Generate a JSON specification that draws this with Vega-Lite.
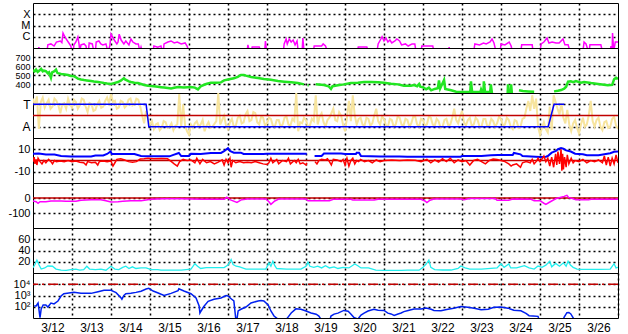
{
"$schema": "https://vega.github.io/schema/vega-lite/v6.json",
"background": "white",
"padding": {"left": 7, "top": 2, "right": 0, "bottom": 0},
"spacing": 0,
"bounds": "flush",
"config": {
  "view": {"stroke": "black", "strokeWidth": 1},
  "axis": {"grid": true, "gridColor": "black", "gridDash": [2, 3], "gridWidth": 1.5, "ticks": false, "domain": false, "title": null, "labelFont": "Liberation Sans", "labelColor": "black", "labelFontSize": 11, "labelPadding": 3, "labelOverlap": false, "labelBound": false},
  "concat": {"spacing": 0}
},
"datasets": {
"xr": [{"t":12.00,"v":5e-8},{"t":12.13,"v":5e-8},{"t":12.15,"v":1.2e-7},{"t":12.18,"v":5e-8},{"t":12.36,"v":5e-8},{"t":12.38,"v":1.9e-7},{"t":12.46,"v":2.3e-7},{"t":12.54,"v":1.5e-7},{"t":12.60,"v":3.4e-7},{"t":12.70,"v":4.2e-7},{"t":12.74,"v":3e-7},{"t":12.77,"v":2.1e-6},{"t":12.82,"v":9.5e-7},{"t":12.87,"v":5.1e-7},{"t":12.92,"v":2.8e-7},{"t":12.97,"v":1.5e-7},{"t":13.00,"v":5e-8},{"t":13.03,"v":5e-8},{"t":13.05,"v":1.9e-7},{"t":13.10,"v":3.4e-7},{"t":13.15,"v":9.5e-7},{"t":13.18,"v":2.3e-7},{"t":13.20,"v":5e-8},{"t":13.23,"v":1.9e-7},{"t":13.31,"v":2.3e-7},{"t":13.36,"v":1.5e-7},{"t":13.38,"v":5e-8},{"t":13.42,"v":5e-8},{"t":13.44,"v":2.8e-7},{"t":13.52,"v":2.3e-7},{"t":13.56,"v":5e-8},{"t":13.60,"v":5e-8},{"t":13.62,"v":3.4e-7},{"t":13.69,"v":4.2e-7},{"t":13.74,"v":2.3e-7},{"t":13.79,"v":1.9e-7},{"t":13.87,"v":2.3e-7},{"t":13.92,"v":5e-8},{"t":13.97,"v":1.5e-7},{"t":14.00,"v":1.7e-6},{"t":14.05,"v":7.8e-7},{"t":14.10,"v":4.2e-7},{"t":14.15,"v":2.3e-7},{"t":14.18,"v":3.4e-7},{"t":14.21,"v":1.7e-6},{"t":14.26,"v":5.1e-7},{"t":14.33,"v":2.3e-7},{"t":14.38,"v":4.2e-7},{"t":14.46,"v":1.9e-7},{"t":14.51,"v":6.3e-7},{"t":14.56,"v":3.4e-7},{"t":14.64,"v":2.3e-7},{"t":14.70,"v":2.3e-7},{"t":14.74,"v":5e-8},{"t":14.77,"v":1.2e-7},{"t":14.80,"v":5e-8},{"t":15.08,"v":5e-8},{"t":15.10,"v":1.5e-7},{"t":15.20,"v":1.2e-7},{"t":15.28,"v":1.5e-7},{"t":15.32,"v":5e-8},{"t":15.34,"v":5e-8},{"t":15.36,"v":2.3e-7},{"t":15.46,"v":3.4e-7},{"t":15.54,"v":4.2e-7},{"t":15.62,"v":2.8e-7},{"t":15.70,"v":3.4e-7},{"t":15.80,"v":2.3e-7},{"t":15.90,"v":2.8e-7},{"t":15.95,"v":1.5e-7},{"t":16.00,"v":5e-8},{"t":17.49,"v":5e-8},{"t":17.51,"v":1.9e-7},{"t":17.55,"v":5e-8},{"t":17.60,"v":5e-8},{"t":17.62,"v":1.2e-7},{"t":17.80,"v":1.2e-7},{"t":17.85,"v":5e-8},{"t":17.94,"v":5e-8},{"t":17.96,"v":4.2e-7},{"t":17.99,"v":5e-8},{"t":18.42,"v":5e-8},{"t":18.44,"v":2.3e-7},{"t":18.49,"v":6.3e-7},{"t":18.52,"v":2.3e-7},{"t":18.57,"v":6.3e-7},{"t":18.62,"v":3.4e-7},{"t":18.67,"v":5.1e-7},{"t":18.72,"v":1.9e-7},{"t":18.77,"v":4.2e-7},{"t":18.80,"v":5e-8},{"t":18.90,"v":5e-8},{"t":18.92,"v":7.8e-7},{"t":18.95,"v":5e-8},{"t":19.19,"v":5e-8},{"t":19.21,"v":1.5e-7},{"t":19.40,"v":1.5e-7},{"t":19.44,"v":2.3e-7},{"t":19.50,"v":1.5e-7},{"t":19.55,"v":5e-8},{"t":20.32,"v":5e-8},{"t":20.34,"v":1.2e-7},{"t":20.56,"v":1.2e-7},{"t":20.60,"v":5e-8},{"t":20.82,"v":5e-8},{"t":20.85,"v":2.3e-7},{"t":20.92,"v":6.3e-7},{"t":20.95,"v":1e-6},{"t":21.00,"v":4.2e-7},{"t":21.05,"v":7.8e-7},{"t":21.10,"v":3.4e-7},{"t":21.15,"v":5.1e-7},{"t":21.20,"v":2.8e-7},{"t":21.28,"v":4.2e-7},{"t":21.33,"v":6.3e-7},{"t":21.40,"v":4.2e-7},{"t":21.45,"v":1.9e-7},{"t":21.55,"v":2.3e-7},{"t":21.62,"v":1.5e-7},{"t":21.72,"v":2.3e-7},{"t":21.79,"v":2.3e-7},{"t":21.82,"v":5e-8},{"t":21.95,"v":5e-8},{"t":21.97,"v":1.5e-7},{"t":22.25,"v":1.5e-7},{"t":22.28,"v":5e-8},{"t":22.65,"v":5e-8},{"t":22.67,"v":1.2e-7},{"t":22.69,"v":5e-8},{"t":23.30,"v":5e-8},{"t":23.33,"v":2.3e-7},{"t":23.45,"v":1.9e-7},{"t":23.55,"v":2.8e-7},{"t":23.62,"v":2.3e-7},{"t":23.72,"v":3.4e-7},{"t":23.77,"v":6.3e-7},{"t":23.82,"v":2.8e-7},{"t":23.87,"v":5e-8},{"t":23.98,"v":5e-8},{"t":24.00,"v":2.3e-7},{"t":24.10,"v":1.9e-7},{"t":24.21,"v":3.4e-7},{"t":24.26,"v":1.5e-7},{"t":24.29,"v":5e-8},{"t":24.51,"v":5e-8},{"t":24.53,"v":1.9e-7},{"t":24.80,"v":1.9e-7},{"t":24.82,"v":5e-8},{"t":25.00,"v":5e-8},{"t":25.03,"v":2.3e-7},{"t":25.10,"v":3.4e-7},{"t":25.18,"v":7.8e-7},{"t":25.23,"v":2.8e-7},{"t":25.31,"v":3.4e-7},{"t":25.41,"v":2.8e-7},{"t":25.49,"v":2.8e-7},{"t":25.59,"v":6.3e-7},{"t":25.64,"v":1.9e-7},{"t":25.72,"v":1.9e-7},{"t":25.77,"v":5e-8},{"t":26.10,"v":5e-8},{"t":26.13,"v":3.4e-7},{"t":26.18,"v":2.3e-7},{"t":26.24,"v":5e-8},{"t":26.26,"v":5e-8},{"t":26.28,"v":1.9e-7},{"t":26.56,"v":1.9e-7},{"t":26.60,"v":5e-8},{"t":26.80,"v":5e-8},{"t":26.82,"v":1.5e-7},{"t":26.85,"v":5e-8},{"t":26.86,"v":2.1e-6},{"t":26.89,"v":5e-8},{"t":26.93,"v":3.4e-7},{"t":27.00,"v":3.4e-7}],
"sw": [{"t":12.00,"v":555},{"t":12.04,"v":540},{"t":12.08,"v":560},{"t":12.12,"v":535},{"t":12.15,"v":545},{"t":12.21,"v":567},{"t":12.25,"v":540},{"t":12.28,"v":548},{"t":12.33,"v":544},{"t":12.38,"v":520},{"t":12.41,"v":530},{"t":12.46,"v":470},{"t":12.49,"v":530},{"t":12.54,"v":540},{"t":12.59,"v":560},{"t":12.62,"v":525},{"t":12.64,"v":520},{"t":12.72,"v":511},{"t":12.82,"v":505},{"t":12.90,"v":500},{"t":12.97,"v":490},{"t":13.03,"v":489},{"t":13.10,"v":475},{"t":13.15,"v":460},{"t":13.23,"v":450},{"t":13.31,"v":444},{"t":13.38,"v":440},{"t":13.49,"v":433},{"t":13.56,"v":428},{"t":13.67,"v":422},{"t":13.74,"v":418},{"t":13.82,"v":411},{"t":13.90,"v":405},{"t":14.00,"v":400},{"t":14.08,"v":410},{"t":14.18,"v":422},{"t":14.26,"v":440},{"t":14.33,"v":465},{"t":14.36,"v":450},{"t":14.46,"v":430},{"t":14.51,"v":422},{"t":14.60,"v":415},{"t":14.69,"v":411},{"t":14.77,"v":400},{"t":14.85,"v":389},{"t":14.95,"v":380},{"t":15.03,"v":378},{"t":15.15,"v":372},{"t":15.28,"v":365},{"t":15.36,"v":361},{"t":15.46,"v":355},{"t":15.54,"v":350},{"t":15.62,"v":358},{"t":15.72,"v":367},{"t":15.87,"v":361},{"t":16.05,"v":367},{"t":16.15,"v":360},{"t":16.23,"v":340},{"t":16.31,"v":378},{"t":16.44,"v":400},{"t":16.56,"v":415},{"t":16.69,"v":415},{"t":16.82,"v":418},{"t":16.90,"v":440},{"t":17.00,"v":450},{"t":17.15,"v":463},{"t":17.25,"v":480},{"t":17.33,"v":500},{"t":17.41,"v":500},{"t":17.46,"v":493},{"t":17.59,"v":478},{"t":17.77,"v":467},{"t":17.92,"v":456},{"t":18.10,"v":448},{"t":18.28,"v":433},{"t":18.44,"v":426},{"t":18.62,"v":419},{"t":18.79,"v":411},{"t":18.95,"v":396},{"t":18.98,"v":null},{"t":19.04,"v":385},{"t":19.07,"v":385},{"t":19.09,"v":null},{"t":19.25,"v":396},{"t":19.46,"v":389},{"t":19.58,"v":375},{"t":19.64,"v":345},{"t":19.68,"v":375},{"t":19.82,"v":385},{"t":19.97,"v":396},{"t":20.15,"v":411},{"t":20.33,"v":415},{"t":20.49,"v":422},{"t":20.67,"v":422},{"t":20.85,"v":419},{"t":21.00,"v":415},{"t":21.18,"v":404},{"t":21.36,"v":396},{"t":21.51,"v":380},{"t":21.69,"v":381},{"t":21.77,"v":389},{"t":21.85,"v":376},{"t":21.90,"v":400},{"t":21.93,"v":370},{"t":22.00,"v":365},{"t":22.08,"v":341},{"t":22.15,"v":360},{"t":22.21,"v":330},{"t":22.30,"v":345},{"t":22.38,"v":352},{"t":22.41,"v":440},{"t":22.44,"v":350},{"t":22.54,"v":444},{"t":22.57,"v":345},{"t":22.72,"v":330},{"t":22.85,"v":315},{"t":22.97,"v":311},{"t":23.21,"v":311},{"t":23.23,"v":430},{"t":23.26,"v":311},{"t":23.47,"v":311},{"t":23.49,"v":340},{"t":23.52,"v":311},{"t":23.55,"v":311},{"t":23.56,"v":430},{"t":23.59,"v":311},{"t":23.72,"v":311},{"t":23.74,"v":396},{"t":23.77,"v":290},{"t":23.79,"v":null},{"t":24.17,"v":290},{"t":24.18,"v":396},{"t":24.20,"v":290},{"t":24.25,"v":290},{"t":24.26,"v":396},{"t":24.28,"v":290},{"t":24.29,"v":null},{"t":24.46,"v":330},{"t":24.56,"v":322},{"t":24.70,"v":318},{"t":24.85,"v":315},{"t":24.87,"v":null},{"t":25.36,"v":318},{"t":25.46,"v":325},{"t":25.54,"v":333},{"t":25.62,"v":348},{"t":25.67,"v":370},{"t":25.72,"v":426},{"t":25.79,"v":430},{"t":25.85,"v":420},{"t":25.92,"v":433},{"t":26.05,"v":415},{"t":26.13,"v":422},{"t":26.31,"v":410},{"t":26.49,"v":400},{"t":26.64,"v":392},{"t":26.74,"v":385},{"t":26.85,"v":390},{"t":26.90,"v":452},{"t":26.95,"v":470},{"t":27.00,"v":455}],
"phi": [{"t":12.0,"v":3.5},{"t":12.05,"v":2.9},{"t":12.1,"v":3.7},{"t":12.15,"v":0.8},{"t":12.2,"v":3.2},{"t":12.25,"v":3.6},{"t":12.3,"v":2.7},{"t":12.35,"v":3.1},{"t":12.4,"v":3.4},{"t":12.45,"v":2.6},{"t":12.5,"v":2.8},{"t":12.55,"v":3.5},{"t":12.6,"v":3.3},{"t":12.65,"v":2.9},{"t":12.7,"v":2.2},{"t":12.75,"v":3.0},{"t":12.8,"v":3.1},{"t":12.85,"v":2.6},{"t":12.9,"v":3.5},{"t":12.95,"v":3.0},{"t":13.0,"v":2.7},{"t":13.05,"v":3.4},{"t":13.1,"v":3.2},{"t":13.15,"v":2.6},{"t":13.2,"v":2.9},{"t":13.25,"v":3.5},{"t":13.3,"v":3.4},{"t":13.35,"v":2.8},{"t":13.4,"v":2.3},{"t":13.45,"v":3.1},{"t":13.5,"v":3.0},{"t":13.55,"v":2.4},{"t":13.6,"v":2.5},{"t":13.65,"v":3.0},{"t":13.7,"v":3.3},{"t":13.75,"v":2.7},{"t":13.8,"v":2.8},{"t":13.85,"v":3.3},{"t":13.9,"v":3.6},{"t":13.95,"v":3.1},{"t":14.0,"v":3.9},{"t":14.05,"v":3.2},{"t":14.1,"v":3.3},{"t":14.15,"v":2.6},{"t":14.2,"v":2.7},{"t":14.25,"v":3.3},{"t":14.3,"v":3.2},{"t":14.35,"v":2.7},{"t":14.4,"v":2.9},{"t":14.45,"v":3.4},{"t":14.5,"v":3.5},{"t":14.55,"v":2.9},{"t":14.6,"v":3.0},{"t":14.65,"v":3.5},{"t":14.7,"v":3.4},{"t":14.75,"v":2.8},{"t":14.8,"v":2.0},{"t":14.85,"v":1.3},{"t":14.9,"v":2.4},{"t":14.95,"v":1.6},{"t":15.0,"v":1.2},{"t":15.05,"v":1.5},{"t":15.1,"v":0.8},{"t":15.15,"v":1.2},{"t":15.2,"v":1.3},{"t":15.25,"v":0.7},{"t":15.3,"v":0.9},{"t":15.35,"v":1.5},{"t":15.4,"v":1.4},{"t":15.45,"v":0.9},{"t":15.5,"v":1.0},{"t":15.55,"v":1.3},{"t":15.6,"v":0.7},{"t":15.65,"v":1.1},{"t":15.7,"v":1.2},{"t":15.75,"v":3.9},{"t":15.8,"v":1.0},{"t":15.85,"v":3.0},{"t":15.9,"v":1.1},{"t":15.95,"v":0.6},{"t":16.0,"v":0.3},{"t":16.05,"v":1.2},{"t":16.1,"v":0.9},{"t":16.15,"v":1.3},{"t":16.2,"v":1.5},{"t":16.25,"v":1.0},{"t":16.3,"v":1.2},{"t":16.35,"v":1.6},{"t":16.4,"v":0.6},{"t":16.45,"v":1.1},{"t":16.5,"v":1.4},{"t":16.55,"v":0.9},{"t":16.6,"v":1.0},{"t":16.7,"v":1.5},{"t":16.75,"v":4.0},{"t":16.8,"v":1.2},{"t":16.85,"v":1.6},{"t":16.9,"v":2.0},{"t":16.95,"v":1.1},{"t":17.0,"v":0.8},{"t":17.05,"v":1.4},{"t":17.1,"v":1.7},{"t":17.15,"v":1.0},{"t":17.2,"v":1.1},{"t":17.25,"v":1.8},{"t":17.3,"v":2.0},{"t":17.35,"v":1.3},{"t":17.4,"v":1.4},{"t":17.45,"v":2.1},{"t":17.5,"v":2.4},{"t":17.55,"v":1.5},{"t":17.6,"v":1.6},{"t":17.65,"v":2.3},{"t":17.7,"v":2.2},{"t":17.75,"v":1.4},{"t":17.8,"v":1.2},{"t":17.85,"v":1.9},{"t":17.9,"v":1.8},{"t":17.95,"v":1.1},{"t":18.0,"v":1.3},{"t":18.05,"v":1.8},{"t":18.1,"v":1.7},{"t":18.15,"v":1.1},{"t":18.2,"v":1.0},{"t":18.25,"v":1.6},{"t":18.3,"v":1.6},{"t":18.35,"v":1.0},{"t":18.4,"v":1.2},{"t":18.45,"v":1.8},{"t":18.5,"v":1.9},{"t":18.55,"v":1.2},{"t":18.6,"v":1.1},{"t":18.65,"v":1.7},{"t":18.7,"v":1.5},{"t":18.75,"v":4.0},{"t":18.8,"v":0.6},{"t":18.85,"v":1.4},{"t":18.9,"v":1.3},{"t":18.95,"v":1.8},{"t":19.0,"v":1.6},{"t":19.05,"v":1.0},{"t":19.1,"v":1.1},{"t":19.15,"v":1.7},{"t":19.2,"v":1.5},{"t":19.25,"v":3.8},{"t":19.3,"v":1.2},{"t":19.35,"v":1.9},{"t":19.4,"v":2.2},{"t":19.45,"v":1.4},{"t":19.5,"v":1.0},{"t":19.55,"v":1.6},{"t":19.6,"v":1.8},{"t":19.65,"v":2.2},{"t":19.7,"v":2.6},{"t":19.75,"v":1.6},{"t":19.8,"v":1.5},{"t":19.85,"v":2.3},{"t":19.9,"v":2.0},{"t":19.95,"v":1.2},{"t":20.0,"v":0.6},{"t":20.05,"v":1.8},{"t":20.1,"v":3.3},{"t":20.15,"v":1.5},{"t":20.2,"v":3.8},{"t":20.25,"v":2.0},{"t":20.3,"v":1.2},{"t":20.35,"v":1.7},{"t":20.4,"v":1.8},{"t":20.45,"v":1.2},{"t":20.5,"v":1.1},{"t":20.55,"v":1.8},{"t":20.6,"v":1.7},{"t":20.65,"v":1.1},{"t":20.7,"v":1.3},{"t":20.75,"v":2.0},{"t":20.8,"v":2.6},{"t":20.85,"v":1.5},{"t":20.9,"v":1.2},{"t":20.95,"v":1.9},{"t":21.0,"v":1.7},{"t":21.05,"v":1.1},{"t":21.1,"v":1.0},{"t":21.15,"v":1.7},{"t":21.2,"v":1.6},{"t":21.25,"v":1.0},{"t":21.3,"v":1.2},{"t":21.35,"v":1.9},{"t":21.4,"v":1.8},{"t":21.45,"v":1.2},{"t":21.5,"v":1.1},{"t":21.55,"v":1.7},{"t":21.6,"v":1.6},{"t":21.65,"v":1.0},{"t":21.7,"v":1.3},{"t":21.75,"v":1.9},{"t":21.8,"v":1.9},{"t":21.85,"v":1.2},{"t":21.9,"v":1.0},{"t":21.95,"v":1.7},{"t":22.0,"v":1.6},{"t":22.05,"v":1.1},{"t":22.1,"v":1.2},{"t":22.15,"v":1.9},{"t":22.2,"v":1.8},{"t":22.25,"v":1.2},{"t":22.3,"v":1.1},{"t":22.35,"v":1.7},{"t":22.4,"v":1.5},{"t":22.45,"v":0.9},{"t":22.5,"v":1.0},{"t":22.55,"v":1.6},{"t":22.6,"v":1.7},{"t":22.65,"v":1.1},{"t":22.7,"v":1.2},{"t":22.75,"v":1.8},{"t":22.8,"v":2.6},{"t":22.85,"v":1.6},{"t":22.9,"v":1.3},{"t":22.95,"v":1.9},{"t":23.0,"v":2.4},{"t":23.05,"v":1.4},{"t":23.1,"v":1.1},{"t":23.15,"v":1.6},{"t":23.2,"v":1.8},{"t":23.25,"v":1.1},{"t":23.3,"v":1.2},{"t":23.35,"v":1.8},{"t":23.4,"v":1.6},{"t":23.45,"v":1.0},{"t":23.5,"v":1.0},{"t":23.55,"v":1.7},{"t":23.6,"v":1.7},{"t":23.65,"v":1.0},{"t":23.7,"v":1.1},{"t":23.75,"v":1.7},{"t":23.8,"v":1.5},{"t":23.85,"v":1.0},{"t":23.9,"v":1.3},{"t":23.95,"v":1.9},{"t":24.0,"v":1.7},{"t":24.05,"v":1.1},{"t":24.1,"v":1.2},{"t":24.15,"v":1.8},{"t":24.2,"v":1.6},{"t":24.25,"v":1.0},{"t":24.3,"v":0.8},{"t":24.35,"v":1.6},{"t":24.4,"v":1.5},{"t":24.45,"v":0.9},{"t":24.5,"v":1.0},{"t":24.55,"v":1.7},{"t":24.6,"v":1.8},{"t":24.65,"v":2.6},{"t":24.7,"v":3.3},{"t":24.75,"v":2.4},{"t":24.8,"v":3.8},{"t":24.85,"v":2.6},{"t":24.9,"v":3.5},{"t":24.95,"v":1.0},{"t":25.0,"v":0.3},{"t":25.05,"v":0.9},{"t":25.1,"v":1.4},{"t":25.15,"v":0.8},{"t":25.2,"v":0.5},{"t":25.25,"v":2.8},{"t":25.3,"v":0.7},{"t":25.35,"v":3.8},{"t":25.4,"v":3.2},{"t":25.45,"v":2.6},{"t":25.5,"v":2.1},{"t":25.55,"v":3.1},{"t":25.6,"v":1.8},{"t":25.65,"v":1.3},{"t":25.7,"v":2.5},{"t":25.75,"v":1.2},{"t":25.8,"v":0.6},{"t":25.85,"v":1.3},{"t":25.9,"v":1.6},{"t":25.95,"v":0.9},{"t":26.0,"v":0.4},{"t":26.05,"v":1.2},{"t":26.1,"v":1.8},{"t":26.15,"v":1.0},{"t":26.2,"v":1.2},{"t":26.25,"v":2.0},{"t":26.3,"v":3.3},{"t":26.35,"v":1.5},{"t":26.4,"v":1.0},{"t":26.45,"v":1.6},{"t":26.5,"v":1.8},{"t":26.55,"v":1.0},{"t":26.6,"v":0.7},{"t":26.65,"v":1.4},{"t":26.7,"v":1.5},{"t":26.75,"v":0.9},{"t":26.8,"v":1.0},{"t":26.85,"v":1.7},{"t":26.9,"v":1.9},{"t":26.95,"v":1.1},{"t":27.0,"v":0.8}],
"sec": [{"t":12.0,"v":3},{"t":14.90,"v":3},{"t":14.97,"v":1},{"t":25.21,"v":1},{"t":25.36,"v":3},{"t":25.62,"v":3}],
"bt": [{"t":12.00,"v":6},{"t":12.15,"v":6.2},{"t":12.33,"v":5.3},{"t":12.55,"v":5.3},{"t":12.72,"v":4},{"t":12.97,"v":3.6},{"t":13.2,"v":3.6},{"t":13.49,"v":3.6},{"t":13.6,"v":4.4},{"t":13.8,"v":4.4},{"t":13.9,"v":5.8},{"t":13.99,"v":8},{"t":14.02,"v":5.8},{"t":14.3,"v":5.8},{"t":14.6,"v":5.8},{"t":14.77,"v":4},{"t":14.9,"v":3.7},{"t":15.2,"v":3.7},{"t":15.5,"v":3.7},{"t":15.6,"v":5},{"t":15.74,"v":6.7},{"t":15.8,"v":4},{"t":16.0,"v":4},{"t":16.05,"v":6},{"t":16.3,"v":5.8},{"t":16.56,"v":6.7},{"t":16.82,"v":6.7},{"t":16.9,"v":8.4},{"t":17.0,"v":11},{"t":17.05,"v":8.4},{"t":17.15,"v":7},{"t":17.33,"v":7},{"t":17.4,"v":5.8},{"t":17.9,"v":5.8},{"t":18.0,"v":6},{"t":18.5,"v":6},{"t":19.02,"v":6},{"t":19.04,"v":null},{"t":19.22,"v":4},{"t":19.4,"v":4},{"t":19.46,"v":6.2},{"t":19.9,"v":6.2},{"t":20.0,"v":5.8},{"t":20.28,"v":5.8},{"t":20.3,"v":7},{"t":20.36,"v":7},{"t":20.41,"v":4},{"t":20.9,"v":3.6},{"t":21.4,"v":3.6},{"t":21.6,"v":3.4},{"t":22.0,"v":3.4},{"t":22.5,"v":3.4},{"t":22.97,"v":3.4},{"t":23.0,"v":4},{"t":23.5,"v":4},{"t":23.74,"v":4.6},{"t":23.92,"v":4.9},{"t":24.3,"v":4.9},{"t":24.33,"v":6.7},{"t":24.5,"v":5.5},{"t":24.55,"v":4},{"t":24.77,"v":3.5},{"t":25.0,"v":3.1},{"t":25.15,"v":3.4},{"t":25.2,"v":4},{"t":25.3,"v":7},{"t":25.41,"v":8.5},{"t":25.46,"v":10},{"t":25.54,"v":11},{"t":25.6,"v":10.5},{"t":25.67,"v":9},{"t":25.79,"v":8},{"t":25.9,"v":6},{"t":26.1,"v":5.5},{"t":26.2,"v":4.6},{"t":26.5,"v":4.6},{"t":26.65,"v":5.5},{"t":26.8,"v":6.5},{"t":26.9,"v":7.8},{"t":27.0,"v":8}],
"bz": [{"t":12.00,"v":-1},{"t":12.03,"v":3},{"t":12.05,"v":-3},{"t":12.08,"v":1},{"t":12.1,"v":-4},{"t":12.13,"v":2},{"t":12.18,"v":-1},{"t":12.23,"v":-3},{"t":12.28,"v":0},{"t":12.33,"v":-2},{"t":12.4,"v":1},{"t":12.46,"v":-1},{"t":12.5,"v":-3},{"t":12.55,"v":0},{"t":12.6,"v":-1},{"t":12.7,"v":-0.5},{"t":12.8,"v":-1},{"t":12.9,"v":0},{"t":13.0,"v":-1},{"t":13.1,"v":-0.5},{"t":13.2,"v":-1.5},{"t":13.3,"v":-2},{"t":13.36,"v":-4},{"t":13.4,"v":-1},{"t":13.5,"v":-2},{"t":13.6,"v":-1.5},{"t":13.66,"v":-4},{"t":13.7,"v":-1},{"t":13.8,"v":-0.5},{"t":13.9,"v":-1},{"t":14.0,"v":-0.5},{"t":14.05,"v":-5},{"t":14.1,"v":-2},{"t":14.15,"v":1},{"t":14.25,"v":1.5},{"t":14.35,"v":0.5},{"t":14.45,"v":-1},{"t":14.55,"v":-1.5},{"t":14.65,"v":-1},{"t":14.75,"v":1.3},{"t":14.85,"v":1.5},{"t":14.95,"v":2},{"t":15.1,"v":1.6},{"t":15.3,"v":1.8},{"t":15.45,"v":1.5},{"t":15.55,"v":-1},{"t":15.62,"v":-3},{"t":15.7,"v":-5},{"t":15.76,"v":-1},{"t":15.85,"v":1},{"t":15.95,"v":0},{"t":16.05,"v":0.5},{"t":16.15,"v":-2},{"t":16.2,"v":2},{"t":16.28,"v":-3},{"t":16.35,"v":1},{"t":16.45,"v":-2},{"t":16.55,"v":-1},{"t":16.65,"v":-3},{"t":16.75,"v":-1.5},{"t":16.85,"v":0.5},{"t":16.9,"v":-4},{"t":16.95,"v":1},{"t":17.0,"v":-2},{"t":17.05,"v":2},{"t":17.08,"v":-6},{"t":17.12,"v":0},{"t":17.2,"v":-2},{"t":17.3,"v":-1},{"t":17.4,"v":-2},{"t":17.5,"v":-1.5},{"t":17.6,"v":-2},{"t":17.7,"v":-1},{"t":17.8,"v":-2},{"t":17.9,"v":-3},{"t":18.0,"v":-3.5},{"t":18.05,"v":-2},{"t":18.1,"v":2},{"t":18.15,"v":-2},{"t":18.25,"v":1},{"t":18.3,"v":-3},{"t":18.4,"v":0},{"t":18.5,"v":-1},{"t":18.55,"v":2},{"t":18.6,"v":-3},{"t":18.7,"v":0},{"t":18.75,"v":-2},{"t":18.8,"v":1},{"t":18.85,"v":-3},{"t":18.92,"v":-2},{"t":19.0,"v":-4},{"t":19.02,"v":-2},{"t":19.03,"v":null},{"t":19.05,"v":1},{"t":19.06,"v":null},{"t":19.23,"v":-1},{"t":19.28,"v":-3},{"t":19.33,"v":0},{"t":19.4,"v":1},{"t":19.5,"v":0.5},{"t":19.55,"v":1.5},{"t":19.6,"v":-1},{"t":19.65,"v":-4},{"t":19.7,"v":1},{"t":19.8,"v":0.5},{"t":19.9,"v":-1},{"t":19.95,"v":1},{"t":20.0,"v":-4},{"t":20.05,"v":2},{"t":20.1,"v":-5},{"t":20.15,"v":0},{"t":20.2,"v":2},{"t":20.25,"v":-3},{"t":20.3,"v":0},{"t":20.35,"v":-1},{"t":20.4,"v":1},{"t":20.5,"v":-1},{"t":20.6,"v":0},{"t":20.7,"v":-2},{"t":20.8,"v":0.5},{"t":20.9,"v":-1},{"t":21.0,"v":0},{"t":21.2,"v":0.5},{"t":21.4,"v":0},{"t":21.6,"v":0.4},{"t":21.8,"v":0.3},{"t":21.95,"v":-1},{"t":22.1,"v":1},{"t":22.2,"v":-2},{"t":22.3,"v":0.5},{"t":22.4,"v":-1.5},{"t":22.5,"v":1.5},{"t":22.6,"v":-1},{"t":22.7,"v":2},{"t":22.8,"v":-2},{"t":22.9,"v":0.5},{"t":23.0,"v":-1},{"t":23.1,"v":0},{"t":23.2,"v":-4},{"t":23.3,"v":0},{"t":23.4,"v":1},{"t":23.5,"v":-1},{"t":23.6,"v":-3},{"t":23.7,"v":0},{"t":23.8,"v":1.3},{"t":23.9,"v":1},{"t":24.0,"v":0},{"t":24.1,"v":-1},{"t":24.2,"v":-3},{"t":24.26,"v":-5},{"t":24.3,"v":-4},{"t":24.4,"v":-3},{"t":24.5,"v":-6},{"t":24.55,"v":-2},{"t":24.65,"v":-1},{"t":24.75,"v":-2},{"t":24.8,"v":1},{"t":24.85,"v":-3},{"t":24.9,"v":-1},{"t":24.95,"v":2},{"t":25.0,"v":-1},{"t":25.05,"v":1.3},{"t":25.1,"v":4},{"t":25.15,"v":-1},{"t":25.2,"v":2},{"t":25.25,"v":-5},{"t":25.3,"v":3},{"t":25.35,"v":-6},{"t":25.4,"v":6},{"t":25.43,"v":-4},{"t":25.46,"v":8},{"t":25.5,"v":-3},{"t":25.54,"v":10},{"t":25.56,"v":-9},{"t":25.58,"v":6},{"t":25.6,"v":-8},{"t":25.63,"v":3},{"t":25.67,"v":-6},{"t":25.7,"v":5},{"t":25.74,"v":-3},{"t":25.8,"v":2},{"t":25.85,"v":-2},{"t":25.9,"v":0},{"t":26.0,"v":-1},{"t":26.1,"v":1},{"t":26.2,"v":-2},{"t":26.3,"v":0},{"t":26.4,"v":-1},{"t":26.5,"v":0.5},{"t":26.6,"v":-2},{"t":26.65,"v":4},{"t":26.7,"v":-4},{"t":26.75,"v":3},{"t":26.8,"v":-5},{"t":26.85,"v":2},{"t":26.9,"v":-3},{"t":26.95,"v":5},{"t":27.0,"v":-2}],
"dst": [{"t":12.00,"v":-20},{"t":12.08,"v":-25},{"t":12.13,"v":-35},{"t":12.18,"v":-25},{"t":12.33,"v":-25},{"t":12.46,"v":-20},{"t":12.72,"v":-20},{"t":12.85,"v":-22},{"t":13.10,"v":-22},{"t":13.23,"v":-15},{"t":13.49,"v":-11},{"t":13.74,"v":-11},{"t":13.87,"v":-18},{"t":14.00,"v":-27},{"t":14.18,"v":-25},{"t":14.3,"v":-22},{"t":14.51,"v":-18},{"t":14.77,"v":-18},{"t":15.03,"v":-9},{"t":15.36,"v":-5},{"t":15.8,"v":-5},{"t":16.05,"v":-7},{"t":16.31,"v":-9},{"t":16.9,"v":-9},{"t":16.97,"v":5},{"t":17.05,"v":-11},{"t":17.23,"v":-29},{"t":17.35,"v":-11},{"t":17.5,"v":-7},{"t":17.97,"v":-7},{"t":18.05,"v":-25},{"t":18.10,"v":-42},{"t":18.2,"v":-20},{"t":18.3,"v":-7},{"t":19.0,"v":-7},{"t":19.05,"v":-18},{"t":19.6,"v":-18},{"t":19.7,"v":-9},{"t":20.15,"v":-9},{"t":20.2,"v":-13},{"t":20.75,"v":-13},{"t":20.85,"v":-9},{"t":21.95,"v":-9},{"t":22.05,"v":-20},{"t":22.10,"v":-31},{"t":22.18,"v":-15},{"t":22.28,"v":-7},{"t":22.97,"v":-7},{"t":23.05,"v":-11},{"t":23.2,"v":-4},{"t":23.85,"v":-4},{"t":23.9,"v":-15},{"t":24.2,"v":-15},{"t":24.3,"v":-7},{"t":24.77,"v":-9},{"t":24.85,"v":-18},{"t":25.0,"v":-18},{"t":25.1,"v":-35},{"t":25.15,"v":-42},{"t":25.23,"v":-30},{"t":25.4,"v":-5},{"t":25.54,"v":5},{"t":25.62,"v":11},{"t":25.69,"v":18},{"t":25.74,"v":2},{"t":25.85,"v":-5},{"t":25.92,"v":-11},{"t":26.25,"v":-11},{"t":26.31,"v":-9},{"t":27.0,"v":-9}],
"np": [{"t":12.00,"v":9.5},{"t":12.05,"v":15},{"t":12.1,"v":23},{"t":12.15,"v":15},{"t":12.21,"v":7},{"t":12.3,"v":9},{"t":12.38,"v":12.4},{"t":12.5,"v":12},{"t":12.59,"v":7},{"t":12.72,"v":5},{"t":12.85,"v":4.8},{"t":12.97,"v":6},{"t":13.1,"v":7},{"t":13.2,"v":5},{"t":13.3,"v":6},{"t":13.38,"v":12},{"t":13.45,"v":7},{"t":13.6,"v":6},{"t":13.74,"v":7},{"t":13.87,"v":5},{"t":14.0,"v":12},{"t":14.1,"v":7},{"t":14.2,"v":6},{"t":14.3,"v":10},{"t":14.38,"v":12},{"t":14.46,"v":8},{"t":14.55,"v":11},{"t":14.64,"v":8},{"t":14.77,"v":9},{"t":14.9,"v":9},{"t":15.03,"v":6},{"t":15.2,"v":6},{"t":15.28,"v":5},{"t":15.5,"v":5},{"t":15.8,"v":5},{"t":16.05,"v":7},{"t":16.15,"v":16.5},{"t":16.22,"v":12},{"t":16.3,"v":8},{"t":16.44,"v":9.5},{"t":16.7,"v":9.5},{"t":16.9,"v":9.5},{"t":17.0,"v":14},{"t":17.08,"v":24},{"t":17.13,"v":15},{"t":17.21,"v":12},{"t":17.3,"v":11},{"t":17.46,"v":7},{"t":17.8,"v":7},{"t":17.97,"v":7},{"t":18.05,"v":18},{"t":18.1,"v":12},{"t":18.15,"v":21},{"t":18.2,"v":13},{"t":18.25,"v":8},{"t":18.5,"v":7},{"t":18.87,"v":7},{"t":19.0,"v":12},{"t":19.05,"v":19.6},{"t":19.1,"v":12},{"t":19.2,"v":10},{"t":19.3,"v":12},{"t":19.4,"v":9},{"t":19.5,"v":13},{"t":19.6,"v":9},{"t":19.72,"v":11},{"t":19.82,"v":8},{"t":19.95,"v":10},{"t":20.1,"v":9},{"t":20.25,"v":16},{"t":20.33,"v":13},{"t":20.41,"v":9},{"t":20.6,"v":9},{"t":20.79,"v":5},{"t":21.0,"v":4.8},{"t":21.44,"v":4.8},{"t":21.6,"v":5},{"t":21.9,"v":5},{"t":22.0,"v":10},{"t":22.08,"v":16},{"t":22.15,"v":23},{"t":22.2,"v":10},{"t":22.3,"v":6},{"t":22.5,"v":5.3},{"t":22.72,"v":5.3},{"t":22.9,"v":8},{"t":22.97,"v":12.4},{"t":23.08,"v":9},{"t":23.2,"v":7},{"t":23.5,"v":7},{"t":23.9,"v":9},{"t":24.0,"v":16.5},{"t":24.08,"v":10},{"t":24.2,"v":16},{"t":24.25,"v":9},{"t":24.4,"v":9},{"t":24.6,"v":13},{"t":24.72,"v":9},{"t":24.85,"v":7},{"t":24.95,"v":12.4},{"t":25.05,"v":10},{"t":25.15,"v":14},{"t":25.25,"v":21},{"t":25.3,"v":11},{"t":25.4,"v":17},{"t":25.5,"v":12},{"t":25.6,"v":18},{"t":25.67,"v":12},{"t":25.72,"v":21},{"t":25.78,"v":14},{"t":25.85,"v":10},{"t":25.95,"v":7},{"t":26.05,"v":6.5},{"t":26.5,"v":6.5},{"t":26.8,"v":7},{"t":26.9,"v":16.5},{"t":26.95,"v":9},{"t":27.0,"v":10}],
"el": [{"t":12.03,"v":117},{"t":12.08,"v":117},{"t":12.13,"v":215},{"t":12.18,"v":11},{"t":12.21,"v":63},{"t":12.26,"v":143},{"t":12.33,"v":143},{"t":12.38,"v":95},{"t":12.46,"v":215},{"t":12.54,"v":180},{"t":12.64,"v":325},{"t":12.72,"v":900},{"t":12.79,"v":1450},{"t":12.92,"v":1660},{"t":13.05,"v":1900},{"t":13.23,"v":1550},{"t":13.49,"v":1550},{"t":13.67,"v":2200},{"t":13.82,"v":2900},{"t":14.00,"v":2900},{"t":14.13,"v":1800},{"t":14.26,"v":600},{"t":14.28,"v":470},{"t":14.33,"v":1000},{"t":14.38,"v":1450},{"t":14.51,"v":1550},{"t":14.64,"v":1900},{"t":14.77,"v":2400},{"t":14.90,"v":3800},{"t":14.97,"v":4300},{"t":15.08,"v":2500},{"t":15.21,"v":1660},{"t":15.36,"v":1000},{"t":15.54,"v":1550},{"t":15.72,"v":2700},{"t":15.74,"v":4000},{"t":15.87,"v":2500},{"t":16.05,"v":1450},{"t":16.18,"v":610},{"t":16.26,"v":117},{"t":16.28,"v":27},{"t":16.31,"v":42},{"t":16.38,"v":105},{"t":16.49,"v":300},{"t":16.64,"v":470},{"t":16.82,"v":610},{"t":16.95,"v":1000},{"t":17.00,"v":900},{"t":17.08,"v":520},{"t":17.15,"v":325},{"t":17.20,"v":8},{"t":17.23,"v":8},{"t":17.26,"v":42},{"t":17.33,"v":60},{"t":17.46,"v":95},{"t":17.59,"v":215},{"t":17.77,"v":325},{"t":17.85,"v":350},{"t":17.92,"v":325},{"t":18.03,"v":143},{"t":18.10,"v":42},{"t":18.18,"v":15},{"t":18.28,"v":8},{"t":18.50,"v":8},{"t":18.54,"v":12},{"t":18.62,"v":28},{"t":18.74,"v":65},{"t":18.87,"v":60},{"t":19.00,"v":42},{"t":19.13,"v":28},{"t":19.26,"v":22},{"t":19.33,"v":15},{"t":19.38,"v":8},{"t":19.62,"v":8},{"t":19.64,"v":15},{"t":19.72,"v":22},{"t":19.82,"v":27},{"t":19.97,"v":47},{"t":20.08,"v":40},{"t":20.15,"v":23},{"t":20.23,"v":11},{"t":20.33,"v":8},{"t":20.41,"v":18},{"t":20.49,"v":27},{"t":20.59,"v":42},{"t":20.74,"v":60},{"t":20.85,"v":50},{"t":21.00,"v":47},{"t":21.10,"v":27},{"t":21.18,"v":23},{"t":21.26,"v":17},{"t":21.36,"v":23},{"t":21.44,"v":28},{"t":21.51,"v":37},{"t":21.62,"v":47},{"t":21.77,"v":63},{"t":21.95,"v":63},{"t":22.08,"v":78},{"t":22.21,"v":60},{"t":22.28,"v":47},{"t":22.46,"v":44},{"t":22.64,"v":60},{"t":22.79,"v":75},{"t":22.97,"v":105},{"t":23.15,"v":90},{"t":23.31,"v":75},{"t":23.49,"v":55},{"t":23.67,"v":60},{"t":23.82,"v":90},{"t":24.00,"v":95},{"t":24.18,"v":75},{"t":24.33,"v":50},{"t":24.51,"v":44},{"t":24.64,"v":26},{"t":24.72,"v":16},{"t":24.82,"v":15},{"t":24.95,"v":14},{"t":24.97,"v":8},{"t":24.99,"v":null},{"t":25.60,"v":8},{"t":25.62,"v":12},{"t":25.69,"v":30},{"t":25.74,"v":31},{"t":25.79,"v":23},{"t":25.87,"v":8}]
},
"vconcat": [
{"width": 585, "height": 45, "layer": [
  {"data": {"name": "xr"}, "mark": {"type": "line", "color": "#ff00ff", "strokeWidth": 1.5, "clip": true},
   "encoding": {
    "x": {"field": "t", "type": "quantitative", "scale": {"domain": [12, 27], "nice": false, "zero": false}, "axis": {"values": [13,14,15,16,17,18,19,20,21,22,23,24,25,26], "labels": false}},
    "y": {"field": "v", "type": "quantitative", "scale": {"type": "log", "domain": [1e-7, 1e-3], "nice": false}, "axis": {"values": [1e-6, 1e-5, 1e-4], "labelExpr": "datum.value > 5e-5 ? 'X' : datum.value > 5e-6 ? 'M' : 'C'", "labelFontSize": 11}}}}
]},
{"width": 585, "height": 45, "layer": [
  {"data": {"name": "sw"}, "mark": {"type": "line", "color": "#22e622", "strokeWidth": 2.5, "clip": true},
   "encoding": {
    "x": {"field": "t", "type": "quantitative", "scale": {"domain": [12, 27], "nice": false, "zero": false}, "axis": {"values": [13,14,15,16,17,18,19,20,21,22,23,24,25,26], "labels": false}},
    "y": {"field": "v", "type": "quantitative", "scale": {"domain": [300, 800], "nice": false, "zero": false}, "axis": {"values": [400, 500, 600, 700], "labelFontSize": 9}}}}
]},
{"width": 585, "height": 45, "layer": [
  {"data": {"name": "phi"}, "mark": {"type": "line", "color": "#f7e49e", "strokeWidth": 2, "clip": true},
   "encoding": {
    "x": {"field": "t", "type": "quantitative", "scale": {"domain": [12, 27], "nice": false, "zero": false}, "axis": {"values": [13,14,15,16,17,18,19,20,21,22,23,24,25,26], "labels": false}},
    "y": {"field": "v", "type": "quantitative", "scale": {"domain": [0, 4], "nice": false, "zero": false}, "axis": {"values": [1, 3], "labelExpr": "datum.value > 2 ? 'T' : 'A'", "labelFontSize": 12}}}},
  {"data": {"values": [{}]}, "mark": {"type": "rule", "color": "#c00000", "strokeWidth": 1.5}, "encoding": {"y": {"datum": 2}}},
  {"data": {"name": "sec"}, "mark": {"type": "line", "color": "#0000ff", "strokeWidth": 1.5, "clip": true},
   "encoding": {"x": {"field": "t", "type": "quantitative"}, "y": {"field": "v", "type": "quantitative"}}}
]},
{"width": 585, "height": 45, "layer": [
  {"data": {"values": [{}]}, "mark": {"type": "rule", "color": "#c00000", "strokeWidth": 1.5}, "encoding": {"y": {"datum": 0, "type": "quantitative", "scale": {"domain": [-20, 20], "nice": false, "zero": false}, "axis": {"values": [-10, 0, 10], "labelExpr": "'' + datum.value"}}}},
  {"data": {"name": "bt"}, "mark": {"type": "line", "color": "#0000ff", "strokeWidth": 2, "clip": true},
   "encoding": {
    "x": {"field": "t", "type": "quantitative", "scale": {"domain": [12, 27], "nice": false, "zero": false}, "axis": {"values": [13,14,15,16,17,18,19,20,21,22,23,24,25,26], "labels": false}},
    "y": {"field": "v", "type": "quantitative"}}},
  {"data": {"name": "bz"}, "mark": {"type": "line", "color": "#ff0000", "strokeWidth": 1.5, "clip": true},
   "encoding": {"x": {"field": "t", "type": "quantitative"}, "y": {"field": "v", "type": "quantitative"}}}
]},
{"width": 585, "height": 45, "layer": [
  {"data": {"values": [{}]}, "mark": {"type": "rule", "color": "#c00000", "strokeWidth": 1.5}, "encoding": {"y": {"datum": 0, "type": "quantitative", "scale": {"domain": [-200, 100], "nice": false, "zero": false}, "axis": {"values": [-100, 0], "labelExpr": "'' + datum.value"}}}},
  {"data": {"name": "dst"}, "mark": {"type": "line", "color": "#ff00ff", "strokeWidth": 1.5, "clip": true},
   "encoding": {
    "x": {"field": "t", "type": "quantitative", "scale": {"domain": [12, 27], "nice": false, "zero": false}, "axis": {"values": [13,14,15,16,17,18,19,20,21,22,23,24,25,26], "labels": false}},
    "y": {"field": "v", "type": "quantitative"}}}
]},
{"width": 585, "height": 45, "layer": [
  {"data": {"name": "np"}, "mark": {"type": "line", "color": "#22eeee", "strokeWidth": 1.3, "clip": true},
   "encoding": {
    "x": {"field": "t", "type": "quantitative", "scale": {"domain": [12, 27], "nice": false, "zero": false}, "axis": {"values": [13,14,15,16,17,18,19,20,21,22,23,24,25,26], "labels": false}},
    "y": {"field": "v", "type": "quantitative", "scale": {"domain": [0, 80], "nice": false, "zero": false}, "axis": {"values": [20, 40, 60]}}}}
]},
{"width": 585, "height": 45, "layer": [
  {"data": {"values": [{}]}, "mark": {"type": "rule", "color": "#c00000", "strokeWidth": 1.5, "strokeDash": [10, 4, 2, 4]}, "encoding": {"y": {"datum": 10000, "type": "quantitative", "scale": {"type": "log", "domain": [10, 100000], "nice": false}, "axis": {"values": [100, 1000, 10000], "labelExpr": "datum.value > 5000 ? '10⁴' : datum.value > 500 ? '10³' : '10²'", "labelFontSize": 11}}}},
  {"data": {"name": "el"}, "mark": {"type": "line", "color": "#0020f0", "strokeWidth": 1.5, "clip": true},
   "encoding": {
    "x": {"field": "t", "type": "quantitative", "scale": {"domain": [12, 27], "nice": false, "zero": false}, "axis": {"values": [13,14,15,16,17,18,19,20,21,22,23,24,25,26,27], "labels": true, "labelExpr": "'3/' + (datum.value - 1)", "labelOffset": -19.5, "labelFlush": false, "labelFontSize": 12, "labelPadding": 4}},
    "y": {"field": "v", "type": "quantitative"}}}
]}
]
}
